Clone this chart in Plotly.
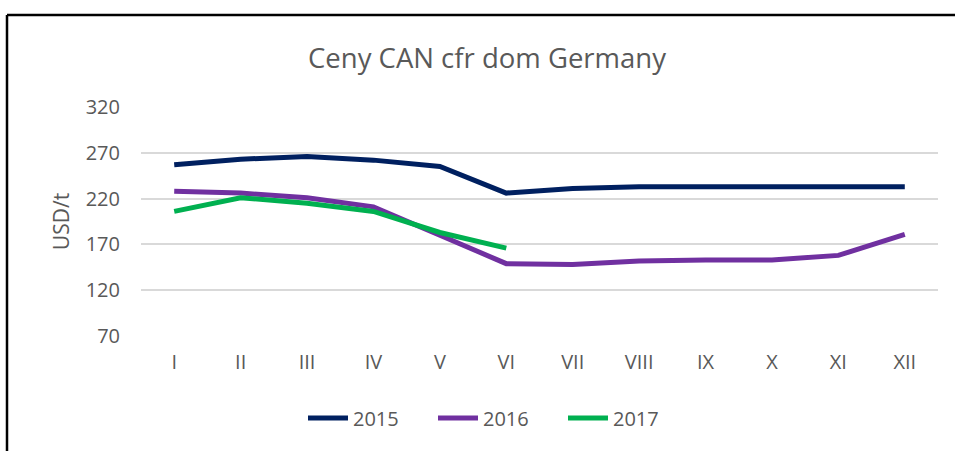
import plotly.graph_objects as go

months = ["I", "II", "III", "IV", "V", "VI", "VII", "VIII", "IX", "X", "XI", "XII"]
y2015 = [257, 263, 266, 262, 255, 226, 231, 233, 233, 233, 233, 233]
y2016 = [228, 226, 221, 211, 180, 149, 148, 152, 153, 153, 158, 181]
y2017 = [206, 221, 215, 206, 183, 166]
y_ticks = [70, 120, 170, 220, 270, 320]

series = [("2015", y2015, "#002060"), ("2016", y2016, "#7030A0"), ("2017", y2017, "#00B050")]

FONT = "Open Sans"
GREY = "#595959"

fig = go.Figure()
for name, vals, col in series:
    fig.add_trace(go.Scatter(
        x=months[:len(vals)], y=vals, name=name, mode="lines",
        line=dict(color=col, width=5),
    ))

W, H = 955, 451
L, R, T, B = 141, 17, 107, 115
pw, ph = W - L - R, H - T - B

def px(x):
    return (x - L) / pw

def py(y):
    return (H - B - y) / ph

fig.update_layout(
    width=W, height=H,
    margin=dict(l=L, r=R, t=T, b=B),
    paper_bgcolor="white", plot_bgcolor="white",
    title=dict(text="Ceny CAN cfr dom Germany", x=487 / W, xanchor="center",
               y=1 - 58 / H, yanchor="middle",
               font=dict(family=FONT, size=27.5, color=GREY)),
    font=dict(family=FONT, color=GREY, size=20),
    xaxis=dict(type="category", categoryorder="array", categoryarray=months,
               range=[-0.5, 11.5], showgrid=False, showline=False, zeroline=False,
               ticks="", ticklabelstandoff=12, tickfont=dict(size=20, color=GREY)),
    yaxis=dict(range=[70, 320], tickvals=y_ticks, showgrid=True, gridcolor="#d9d9d9",
               gridwidth=1.5, zeroline=False, showline=False, ticks="",
               ticklabelstandoff=20, tickfont=dict(size=20, color=GREY),
               title=dict(text="USD/t", font=dict(size=21, color=GREY), standoff=10)),
    legend=dict(orientation="h", x=px(498), xanchor="center", y=py(418), yanchor="middle",
                font=dict(size=20, color=GREY), itemwidth=40, tracegroupgap=0,
                entrywidth=75, entrywidthmode="pixels"),
    showlegend=True,
    shapes=[
        dict(type="line", xref="paper", yref="paper", x0=px(7), x1=px(960), y0=py(15), y1=py(15),
             line=dict(color="black", width=2.5)),
        dict(type="line", xref="paper", yref="paper", x0=px(7), x1=px(7), y0=py(15), y1=py(460),
             line=dict(color="black", width=2.5)),
    ],
)

fig.write_html("out.html", config={"displayModeBar": False},
               post_script="document.body.style.margin='0';document.body.style.overflow='hidden';")
